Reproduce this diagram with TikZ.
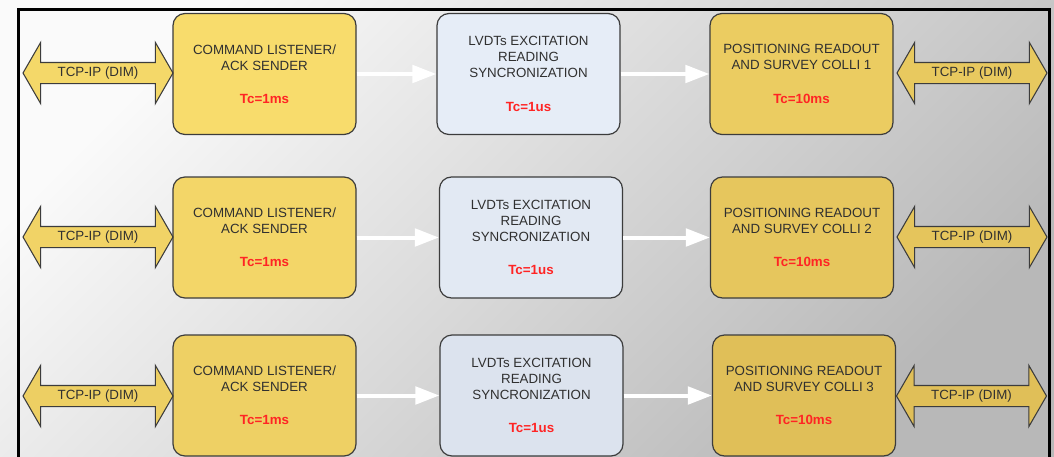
\documentclass[tikz,border=0pt]{standalone}
\usepackage{fontspec}
\setmainfont{Liberation Sans}
\usetikzlibrary{shapes.arrows,arrows.meta}

\definecolor{bglight}{HTML}{FAFAFA}
\definecolor{bgdark}{HTML}{B8B8B8}
\definecolor{yl}{HTML}{F8DC6C}
\definecolor{yd}{HTML}{E0BF58}
\definecolor{bl}{HTML}{E8EFF9}
\definecolor{bd}{HTML}{DCE3EE}
\definecolor{edge}{HTML}{3C3C3C}
\definecolor{txt}{HTML}{303030}
\definecolor{tcred}{HTML}{FF2424}

\newcommand\cycletime[1]{\textcolor{tcred}{\textbf{#1}}}

\begin{document}
\begin{tikzpicture}[x=0.75pt,y=-0.75pt,
  every node/.style={font=\fontsize{10}{12}\selectfont, text=txt},
  stage/.style={draw=edge, line width=0.9pt, rounded corners=9pt,
    minimum width=137.25pt, minimum height=90.75pt, align=center,
    inner sep=0pt, fill=#1},
  link/.style={double arrow, draw=edge, line width=0.8pt, fill=#1,
    double arrow head extend=15pt, double arrow tip angle=120,
    minimum height=112.5pt, text height=7pt, text depth=2pt,
    inner ysep=3pt, inner xsep=4pt},
  flow/.style={draw=white, line width=3pt,
    -{Triangle[length=18pt,width=13pt]}},
]
\useasboundingbox (0,0) rectangle (1054,457);

% backdrop and frame
\shade[top color=bglight, bottom color=bgdark, shading angle=45]
  (0,0) rectangle (1054,457);
\draw[line width=2.25pt] (18,9.5) rectangle (1049,480);

% row 1
\node[stage=yl] (cmd1) at (264.5,74)
  {COMMAND LISTENER/\\ACK SENDER\\[13pt]\cycletime{Tc=1ms}};
\node[stage=bl!85!bd] (lvdt1) at (528.5,74)
  {LVDTs EXCITATION\\READING\\SYNCRONIZATION\\[13pt]\cycletime{Tc=1us}};
\node[stage=yl!45!yd] (pos1) at (801.5,74)
  {POSITIONING READOUT\\AND SURVEY COLLI 1\\[13pt]\cycletime{Tc=10ms}};
\node[link=yl!85!yd] (netL1) at (98,73) {TCP-IP (DIM)};
\node[link=yl!35!yd] (netR1) at (972,73) {TCP-IP (DIM)};

% row 2
\node[stage=yl!80!yd] (cmd2) at (264.5,237.5)
  {COMMAND LISTENER/\\ACK SENDER\\[13pt]\cycletime{Tc=1ms}};
\node[stage=bl!50!bd] (lvdt2) at (531,237.5)
  {LVDTs EXCITATION\\READING\\SYNCRONIZATION\\[13pt]\cycletime{Tc=1us}};
\node[stage=yl!25!yd] (pos2) at (802,237.5)
  {POSITIONING READOUT\\AND SURVEY COLLI 2\\[13pt]\cycletime{Tc=10ms}};
\node[link=yl!70!yd] (netL2) at (98,237) {TCP-IP (DIM)};
\node[link=yl!20!yd] (netR2) at (972,237) {TCP-IP (DIM)};

% row 3
\node[stage=yl!60!yd] (cmd3) at (264.5,395.5)
  {COMMAND LISTENER/\\ACK SENDER\\[13pt]\cycletime{Tc=1ms}};
\node[stage=bd] (lvdt3) at (531.5,395.5)
  {LVDTs EXCITATION\\READING\\SYNCRONIZATION\\[13pt]\cycletime{Tc=1us}};
\node[stage=yd] (pos3) at (804,395.5)
  {POSITIONING READOUT\\AND SURVEY COLLI 3\\[13pt]\cycletime{Tc=10ms}};
\node[link=yl!55!yd] (netL3) at (98,396) {TCP-IP (DIM)};
\node[link=yd] (netR3) at (971.5,396) {TCP-IP (DIM)};

% data flow between stages
\foreach \r in {1,2,3} {
  \draw[flow] (cmd\r.east) -- (lvdt\r.west);
  \draw[flow] (lvdt\r.east) -- (pos\r.west);
}
\end{tikzpicture}
\end{document}
